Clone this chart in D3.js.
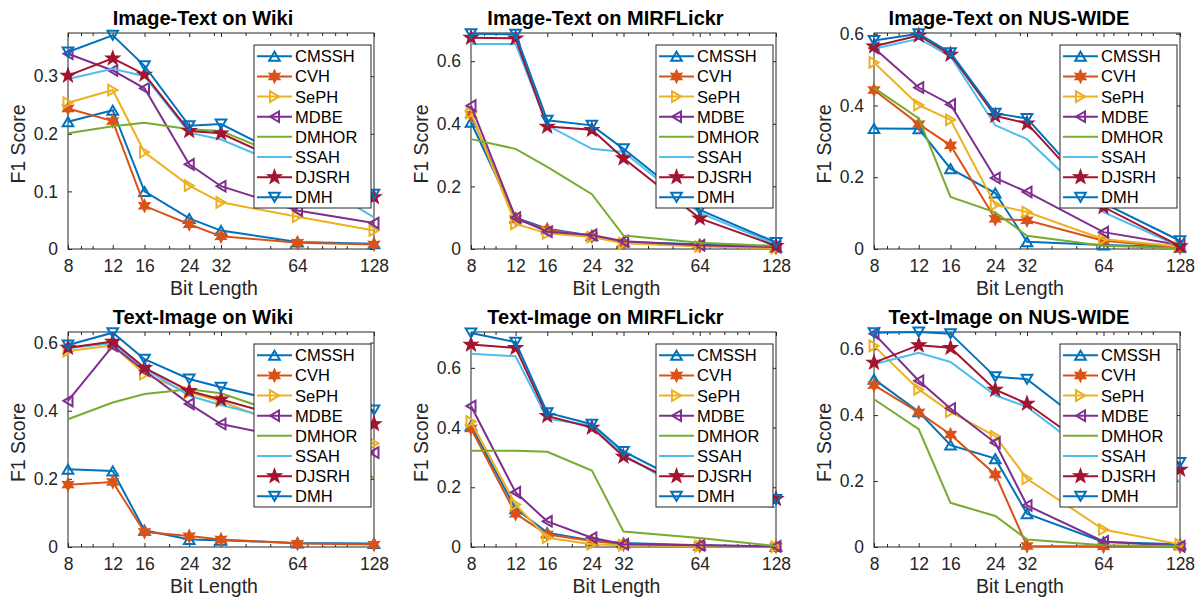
<!DOCTYPE html>
<html>
<head>
<meta charset="utf-8">
<script src="https://cdn.jsdelivr.net/npm/d3@7"></script>
<style>
  body { margin: 0; background: #fff; }
  svg { font-family: "Liberation Sans", Arial, Helvetica, sans-serif; }
</style>
</head>
<body>
<svg id="chart" width="1197" height="599"></svg>
<script>
// Bit lengths on the x axis
const bits = [8, 12, 16, 24, 32, 64, 128];
const minorBits = [9, 10, 20, 30, 40, 50, 60, 70, 80, 90, 100];
const methods = ["CMSSH", "CVH", "SePH", "MDBE", "DMHOR", "SSAH", "DJSRH", "DMH"];
const titles = ["Image-Text on Wiki", "Image-Text on MIRFLickr", "Image-Text on NUS-WIDE",
                "Text-Image on Wiki", "Text-Image on MIRFLickr", "Text-Image on NUS-WIDE"];
const yTicksWiki = [0, 0.1, 0.2, 0.3];
const yTicks = [0, 0.2, 0.4, 0.6];

// F1 scores, one row per method (same order as methods)
const itWiki = [
  [0.221, 0.241, 0.100, 0.053, 0.032, 0.012, 0.009],
  [0.244, 0.222, 0.075, 0.043, 0.022, 0.011, 0.008],
  [0.254, 0.276, 0.168, 0.110, 0.081, 0.056, 0.032],
  [0.339, 0.310, 0.279, 0.147, 0.109, 0.067, 0.045],
  [0.201, 0.213, 0.219, 0.208, 0.205, 0.150, 0.091],
  [0.295, 0.313, 0.300, 0.202, 0.190, 0.135, 0.055],
  [0.301, 0.331, 0.303, 0.205, 0.201, 0.140, 0.090],
  [0.342, 0.371, 0.318, 0.214, 0.217, 0.150, 0.095]
];
const itMir = [
  [0.405, 0.100, 0.065, 0.042, 0.022, 0.015, 0.006],
  [0.430, 0.095, 0.062, 0.040, 0.020, 0.010, 0.004],
  [0.435, 0.080, 0.050, 0.038, 0.018, 0.008, 0.003],
  [0.458, 0.100, 0.055, 0.045, 0.025, 0.012, 0.006],
  [0.351, 0.320, 0.262, 0.175, 0.043, 0.020, 0.010],
  [0.655, 0.655, 0.395, 0.320, 0.310, 0.115, 0.015],
  [0.675, 0.673, 0.391, 0.381, 0.290, 0.098, 0.010],
  [0.688, 0.686, 0.411, 0.395, 0.320, 0.125, 0.021]
];
const itNus = [
  [0.336, 0.335, 0.224, 0.156, 0.020, 0.011, 0.005],
  [0.443, 0.348, 0.289, 0.084, 0.080, 0.023, 0.004],
  [0.520, 0.401, 0.360, 0.123, 0.103, 0.027, 0.007],
  [0.560, 0.450, 0.403, 0.198, 0.159, 0.047, 0.011],
  [0.449, 0.364, 0.145, 0.102, 0.037, 0.009, 0.002],
  [0.558, 0.586, 0.537, 0.345, 0.306, 0.103, 0.007],
  [0.565, 0.595, 0.542, 0.371, 0.350, 0.117, 0.008],
  [0.581, 0.600, 0.547, 0.378, 0.364, 0.128, 0.023]
];
const tiWiki = [
  [0.228, 0.223, 0.049, 0.022, 0.020, 0.012, 0.010],
  [0.183, 0.191, 0.044, 0.032, 0.022, 0.010, 0.007],
  [0.575, 0.591, 0.507, 0.453, 0.428, 0.340, 0.304],
  [0.429, 0.590, 0.518, 0.420, 0.361, 0.315, 0.277],
  [0.375, 0.424, 0.449, 0.463, 0.451, 0.375, 0.201],
  [0.583, 0.598, 0.524, 0.444, 0.417, 0.360, 0.351],
  [0.585, 0.603, 0.526, 0.458, 0.433, 0.370, 0.361],
  [0.593, 0.629, 0.551, 0.493, 0.469, 0.415, 0.402]
];
const tiMir = [
  [0.406, 0.128, 0.048, 0.022, 0.013, 0.006, 0.002],
  [0.397, 0.111, 0.042, 0.020, 0.009, 0.004, 0.001],
  [0.420, 0.142, 0.031, 0.009, 0.006, 0.003, 0.001],
  [0.472, 0.183, 0.086, 0.031, 0.009, 0.006, 0.002],
  [0.322, 0.322, 0.319, 0.256, 0.052, 0.030, 0.003],
  [0.647, 0.639, 0.430, 0.406, 0.309, 0.160, 0.133],
  [0.678, 0.667, 0.439, 0.400, 0.303, 0.180, 0.161],
  [0.717, 0.686, 0.450, 0.411, 0.320, 0.190, 0.159]
];
const tiNus = [
  [0.509, 0.410, 0.309, 0.268, 0.101, 0.015, 0.008],
  [0.491, 0.408, 0.341, 0.220, 0.003, 0.002, 0.001],
  [0.610, 0.478, 0.410, 0.336, 0.207, 0.053, 0.008],
  [0.647, 0.504, 0.420, 0.316, 0.126, 0.017, 0.002],
  [0.448, 0.357, 0.134, 0.094, 0.023, 0.005, 0.002],
  [0.554, 0.589, 0.561, 0.460, 0.425, 0.250, 0.200],
  [0.559, 0.612, 0.604, 0.477, 0.435, 0.270, 0.235],
  [0.650, 0.652, 0.647, 0.516, 0.509, 0.330, 0.256]
];

// styles
const colors = ["#0072BD", "#D95319", "#EDB120", "#7E2F8E", "#77AC30", "#4DBEEE", "#A2142F", "#0072BD"];
const markers = ["up", "hex", "right", "left", null, null, "pent", "down"];
const axisColor = "#262626";

const cols = [[68, 374], [471, 776], [874, 1180]];
const rows = [[33, 249], [332, 547]];

const panels = [
  { title: titles[0], data: itWiki, yMax: 0.375, ticks: yTicksWiki, c: 0, r: 0 },
  { title: titles[1], data: itMir,  yMax: 0.69,  ticks: yTicks,     c: 1, r: 0 },
  { title: titles[2], data: itNus,  yMax: 0.602, ticks: yTicks,     c: 2, r: 0 },
  { title: titles[3], data: tiWiki, yMax: 0.631, ticks: yTicks,     c: 0, r: 1 },
  { title: titles[4], data: tiMir,  yMax: 0.72,  ticks: yTicks,     c: 1, r: 1 },
  { title: titles[5], data: tiNus,  yMax: 0.652, ticks: yTicks,     c: 2, r: 1 }
];

// marker shapes centred on 0,0
function starPath(n, ro, ri, rot) {
  let pts = [];
  for (let i = 0; i < 2 * n; i++) {
    const a = rot + i * Math.PI / n;
    const r = i % 2 === 0 ? ro : ri;
    pts.push([r * Math.sin(a), -r * Math.cos(a)]);
  }
  return "M" + pts.map(p => p[0].toFixed(2) + "," + p[1].toFixed(2)).join("L") + "Z";
}
function markerPath(type) {
  const w = 5.3, h = 4.5;
  if (type === "up") return `M0,${-h}L${w},${h}L${-w},${h}Z`;
  if (type === "down") return `M0,${h}L${w},${-h}L${-w},${-h}Z`;
  if (type === "right") return `M${h},0L${-h},${w}L${-h},${-w}Z`;
  if (type === "left") return `M${-h},0L${h},${w}L${h},${-w}Z`;
  if (type === "hex") return starPath(6, 6.4, 3.3, 0);
  if (type === "pent") return starPath(5, 7.4, 3.0, 0);
  return "";
}
function drawMarker(sel, type, color, cx, cy) {
  if (!type) return;
  const filled = type === "hex" || type === "pent";
  sel.append("path")
    .attr("d", markerPath(type))
    .attr("transform", `translate(${cx},${cy})`)
    .attr("fill", filled ? color : "none")
    .attr("stroke", color)
    .attr("stroke-width", filled ? 1.2 : 2)
    .attr("stroke-linejoin", "miter");
}

const svg = d3.select("#chart");
const fmt = d => d === 0 ? "0" : d3.format(".1f")(d);

function styleAxis(g) {
  g.select(".domain").remove();
  g.attr("font-family", null).attr("font-size", 17.5).attr("color", axisColor);
  g.selectAll("line").attr("stroke-width", 1);
}

panels.forEach(p => {
  const [x0, x1] = cols[p.c];
  const [y0, y1] = rows[p.r];
  const x = d3.scaleLog().domain([8, 128]).range([x0, x1]);
  const y = d3.scaleLinear().domain([0, p.yMax]).range([y1, y0]);
  const g = svg.append("g");

  // ticks on all four sides, pointing in
  g.append("g").attr("transform", `translate(0,${y1})`)
    .call(d3.axisBottom(x).tickValues(bits).tickFormat(d3.format("d")).tickSizeInner(-4).tickSizeOuter(0).tickPadding(11))
    .call(styleAxis);
  g.append("g").attr("transform", `translate(0,${y1})`)
    .call(d3.axisBottom(x).tickValues(minorBits).tickFormat("").tickSizeInner(-3).tickSizeOuter(0))
    .call(styleAxis);
  g.append("g").attr("transform", `translate(0,${y0})`)
    .call(d3.axisTop(x).tickValues(bits).tickFormat("").tickSizeInner(-4).tickSizeOuter(0))
    .call(styleAxis);
  g.append("g").attr("transform", `translate(0,${y0})`)
    .call(d3.axisTop(x).tickValues(minorBits).tickFormat("").tickSizeInner(-3).tickSizeOuter(0))
    .call(styleAxis);
  g.append("g").attr("transform", `translate(${x0},0)`)
    .call(d3.axisLeft(y).tickValues(p.ticks).tickFormat(fmt).tickSizeInner(-4).tickSizeOuter(0).tickPadding(10))
    .call(styleAxis);
  g.append("g").attr("transform", `translate(${x1},0)`)
    .call(d3.axisRight(y).tickValues(p.ticks).tickFormat("").tickSizeInner(-4).tickSizeOuter(0))
    .call(styleAxis);

  // box
  g.append("rect")
    .attr("x", x0).attr("y", y0)
    .attr("width", x1 - x0).attr("height", y1 - y0)
    .attr("fill", "none").attr("stroke", axisColor).attr("stroke-width", 1);

  // series
  const line = d3.line().x((d, i) => x(bits[i])).y(d => y(d));
  p.data.forEach((vals, k) => {
    const s = g.append("g");
    s.append("path")
      .attr("d", line(vals))
      .attr("fill", "none")
      .attr("stroke", colors[k])
      .attr("stroke-width", 2);
    vals.forEach((v, i) => drawMarker(s, markers[k], colors[k], x(bits[i]), y(v)));
  });

  // titles and labels
  g.append("text")
    .attr("x", (x0 + x1) / 2 - 18).attr("y", y0 - 8)
    .attr("text-anchor", "middle")
    .attr("font-size", 20).attr("font-weight", "bold")
    .attr("fill", "#000")
    .text(p.title);
  g.append("text")
    .attr("x", (x0 + x1) / 2 - 7).attr("y", y1 + 46)
    .attr("text-anchor", "middle")
    .attr("font-size", 19.5).attr("fill", axisColor)
    .text("Bit Length");
  g.append("text")
    .attr("transform", `translate(${x0 - 43},${(y0 + y1) / 2 + 3}) rotate(-90)`)
    .attr("text-anchor", "middle")
    .attr("font-size", 19.5).attr("fill", axisColor)
    .text("F1 Score");

  // legend
  const lw = 117, lh = 163;
  const lg = g.append("g").attr("transform", `translate(${x1 - 3 - lw},${y0 + 12})`);
  lg.append("rect")
    .attr("width", lw).attr("height", lh)
    .attr("fill", "#fff").attr("stroke", axisColor).attr("stroke-width", 1);
  methods.forEach((m, k) => {
    const cy = 11.3 + k * 20.14;
    lg.append("line")
      .attr("x1", 3).attr("x2", 38).attr("y1", cy).attr("y2", cy)
      .attr("stroke", colors[k]).attr("stroke-width", 2);
    drawMarker(lg, markers[k], colors[k], 20.5, cy);
    lg.append("text")
      .attr("x", 41).attr("y", cy).attr("dy", "0.36em")
      .attr("font-size", 16.5).attr("fill", "#000")
      .text(m);
  });
});
</script>
</body>
</html>
